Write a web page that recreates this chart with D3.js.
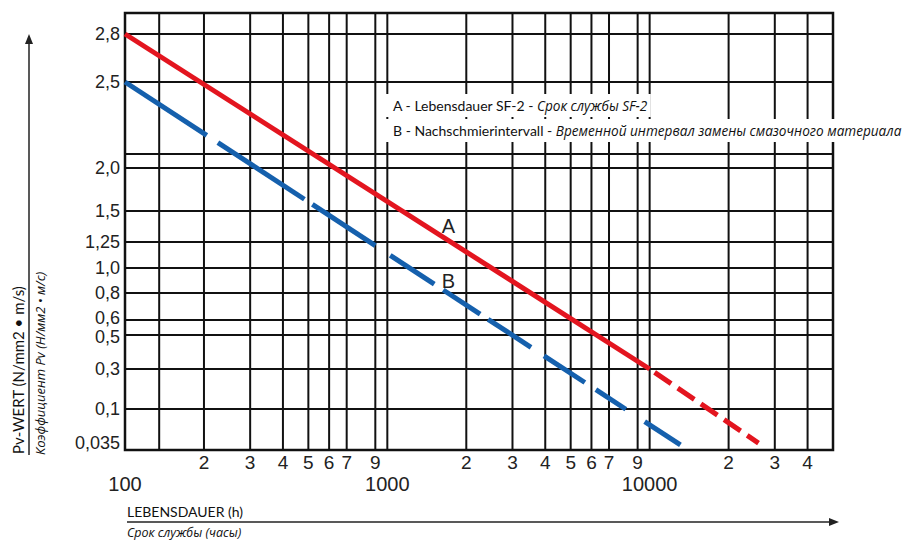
<!DOCTYPE html>
<html>
<head>
<meta charset="utf-8">
<script src="https://cdn.jsdelivr.net/npm/d3@7"></script>
<style>
body{margin:0;background:#fff;}
</style>
</head>
<body>
<div id="chart"></div>
<script>
// x: Lebensdauer in hours (log), y: Pv value (hand drawn, non uniform)
var xDecades = [100, 1000, 10000];
var xDecadeLabels = ["100", "1000", "10000"];
var xTicks = [200, 300, 400, 500, 600, 700, 900, 2000, 3000, 4000, 5000, 6000, 7000, 9000, 20000, 30000, 40000];
var xTickLabels = ["2", "3", "4", "5", "6", "7", "9", "2", "3", "4", "5", "6", "7", "9", "2", "3", "4"];
var xExtraGrid = [135];

var yTicks = [2.8, 2.5, 2.0, 1.5, 1.25, 1.0, 0.8, 0.6, 0.5, 0.3, 0.1, 0.035];
var yTickLabels = ["2,8", "2,5", "2,0", "1,5", "1,25", "1,0", "0,8", "0,6", "0,5", "0,3", "0,1", "0,035"];
var yExtraGrid = [2.1];

// curve A (Lebensdauer SF-2): solid part then dashed extension
var curveA = [[100, 2.8], [10000, 0.3]];
var curveAExt = [[10000, 0.3], [26000, 0.046]];
// curve B (Nachschmierintervall): one straight line drawn in pieces
var curveB = [[100, 2.5], [13100, 0.043]];
var curveBPieces = [[100, 205], [226, 483], [518, 900], [1026, 1510], [1634, 2258], [2422, 3530], [3957, 5663], [6237, 8112], [9573, 13100]];

var legendA = ["A - Lebensdauer SF-2 - ", "Срок службы SF-2"];
var legendB = ["B - Nachschmierintervall - ", "Временной интервал замены смазочного материала"];

var width = 907, height = 542;
var plot = {left: 125, right: 833, top: 13, bottom: 450};
var red = "#e3151f", blue = "#1560ad";

var svg = d3.select("#chart").append("svg")
    .attr("width", width)
    .attr("height", height);

var x = d3.scaleLog().domain([100, 50000]).range([plot.left, plot.right]);
// the printed y axis is not linear nor log, so map it piece by piece
var y = d3.scaleLinear()
    .domain([0.035, 0.1, 0.3, 0.5, 0.6, 0.8, 1.0, 1.25, 1.5, 2.0, 2.1, 2.5, 2.8, 2.95])
    .range([450, 409, 369, 335, 320, 293, 268, 242, 211, 168, 154, 82, 34, 13]);

//grid
var grid = svg.append("g").attr("stroke", "#111").attr("stroke-width", 2);
grid.selectAll("line.v")
    .data(xDecades.concat(xTicks, xExtraGrid))
    .enter().append("line")
    .attr("x1", function(d){ return x(d); })
    .attr("x2", function(d){ return x(d); })
    .attr("y1", plot.top)
    .attr("y2", plot.bottom);
grid.selectAll("line.h")
    .data(yTicks.concat(yExtraGrid))
    .enter().append("line")
    .attr("x1", plot.left)
    .attr("x2", plot.right)
    .attr("y1", function(d){ return y(d); })
    .attr("y2", function(d){ return y(d); });
svg.append("rect")
    .attr("x", plot.left).attr("y", plot.top)
    .attr("width", plot.right - plot.left)
    .attr("height", plot.bottom - plot.top)
    .attr("fill", "none")
    .attr("stroke", "#111")
    .attr("stroke-width", 2.5);

//tick labels
svg.selectAll("text.ylab")
    .data(yTicks)
    .enter().append("text")
    .attr("x", plot.left - 5)
    .attr("y", function(d){
      if (d == 0.6) return y(d) - 2;
      if (d == 0.5) return y(d) + 2;
      return Math.min(y(d), plot.bottom - 7);
    })
    .attr("dy", "0.36em")
    .attr("text-anchor", "end")
    .attr("font-family", "Liberation Sans, Arial, sans-serif")
    .attr("font-size", 18)
    .attr("fill", "#222")
    .text(function(d, i){ return yTickLabels[i]; });

svg.selectAll("text.xlab")
    .data(xTicks)
    .enter().append("text")
    .attr("x", function(d){ return x(d); })
    .attr("y", 469)
    .attr("text-anchor", "middle")
    .attr("font-family", "Liberation Sans, Arial, sans-serif")
    .attr("font-size", 19)
    .attr("fill", "#222")
    .text(function(d, i){ return xTickLabels[i]; });

svg.selectAll("text.xdec")
    .data(xDecades)
    .enter().append("text")
    .attr("x", function(d){ return x(d); })
    .attr("y", 491)
    .attr("text-anchor", "middle")
    .attr("font-family", "Liberation Sans, Arial, sans-serif")
    .attr("font-size", 20)
    .attr("fill", "#222")
    .text(function(d, i){ return xDecadeLabels[i]; });

//curves
function seg(p){ return [x(p[0][0]), y(p[0][1]), x(p[1][0]), y(p[1][1])]; }

var a = seg(curveA);
svg.append("line")
   .attr("x1", a[0]).attr("y1", a[1]).attr("x2", a[2]).attr("y2", a[3])
   .attr("stroke", red).attr("stroke-width", 5);
var ae = seg(curveAExt);
svg.append("line")
   .attr("x1", ae[0]).attr("y1", ae[1]).attr("x2", ae[2]).attr("y2", ae[3])
   .attr("stroke", red).attr("stroke-width", 5)
   .attr("stroke-dasharray", "20,8")
   .attr("stroke-dashoffset", 22);

var b = seg(curveB);
function onB(h){
  var px = x(h), t = (px - b[0]) / (b[2] - b[0]);
  return [px, b[1] + t * (b[3] - b[1])];
}
svg.selectAll("line.b")
    .data(curveBPieces)
    .enter().append("line")
    .attr("x1", function(d){ return onB(d[0])[0]; })
    .attr("y1", function(d){ return onB(d[0])[1]; })
    .attr("x2", function(d){ return onB(d[1])[0]; })
    .attr("y2", function(d){ return onB(d[1])[1]; })
    .attr("stroke", blue)
    .attr("stroke-width", 5);

//curve letters
addLetter("A", 1710, 1.38);
addLetter("B", 1710, 0.9);
function addLetter(t, hx, vy){
  svg.append("text")
     .attr("x", x(hx)).attr("y", y(vy))
     .attr("dy", "0.36em")
     .attr("text-anchor", "middle")
     .attr("font-family", "Liberation Sans, Arial, sans-serif")
     .attr("font-size", 20)
     .attr("fill", "#222")
     .text(t);
}

//legend
addLegend(legendA, 105);
addLegend(legendB, 130);
function addLegend(parts, ly){
  var g = svg.append("g");
  var bg = g.append("rect").attr("fill", "#fff");
  var txt = g.append("text")
     .attr("x", 393).attr("y", ly)
     .attr("dy", "0.35em")
     .attr("fill", "#111");
  txt.append("tspan")
     .attr("font-family", "Lato, sans-serif")
     .attr("font-size", 14)
     .text(parts[0]);
  txt.append("tspan")
     .attr("font-family", "Open Sans, sans-serif")
     .attr("font-style", "italic")
     .attr("font-size", 13.6)
     .text(parts[1]);
  var bb = txt.node().getBBox();
  bg.attr("x", 386).attr("y", ly - 11)
    .attr("width", Math.min(bb.x + bb.width + 3, width) - 386)
    .attr("height", 23);
}

//axis arrows and titles
var axes = svg.append("g").attr("stroke", "#222").attr("stroke-width", 1.5);
axes.append("line").attr("x1", 29).attr("y1", 455).attr("x2", 29).attr("y2", 40);
axes.append("line").attr("x1", 127).attr("y1", 522).attr("x2", 832).attr("y2", 522);
svg.append("path").attr("d", "M29,34 L25,44 L33,44 Z").attr("fill", "#222");
svg.append("path").attr("d", "M839,522 L829,518 L829,526 Z").attr("fill", "#222");

svg.append("text")
   .attr("transform", "translate(24,454) rotate(-90)")
   .attr("font-family", "Lato, sans-serif")
   .attr("font-size", 15)
   .attr("fill", "#111")
   .text("Pv-WERT (N/mm2 • m/s)");
svg.append("text")
   .attr("transform", "translate(45,455) rotate(-90)")
   .attr("font-family", "Open Sans, sans-serif")
   .attr("font-style", "italic")
   .attr("font-size", 13)
   .attr("fill", "#111")
   .text("Коэффициент Pv (Н/мм2 • м/с)");

svg.append("text")
   .attr("x", 127).attr("y", 517)
   .attr("font-family", "Lato, sans-serif")
   .attr("font-size", 14)
   .attr("fill", "#111")
   .text("LEBENSDAUER (h)");
svg.append("text")
   .attr("x", 127).attr("y", 537)
   .attr("font-family", "Open Sans, sans-serif")
   .attr("font-style", "italic")
   .attr("font-size", 12.5)
   .attr("fill", "#111")
   .text("Срок службы (часы)");
</script>
</body>
</html>
